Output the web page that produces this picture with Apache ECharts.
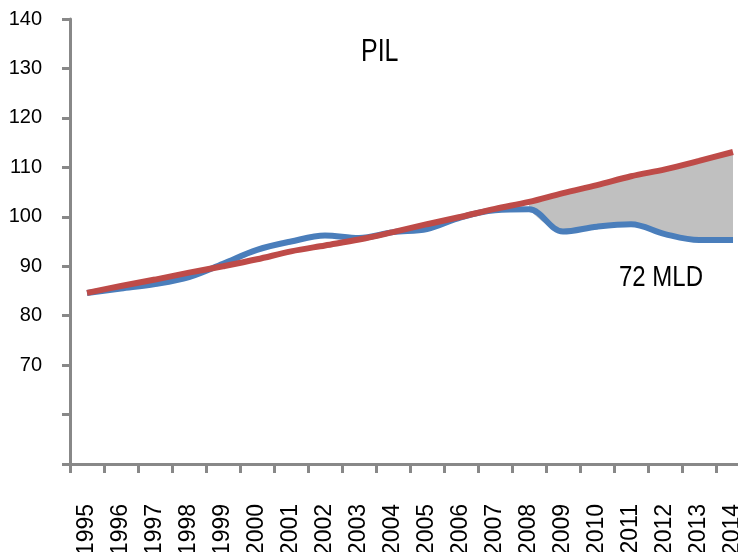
<!DOCTYPE html>
<html>
<head>
<meta charset="utf-8">
<script src="https://cdn.jsdelivr.net/npm/echarts@6/dist/echarts.min.js"></script>
<style>
  html, body { margin: 0; padding: 0; background: #fff; }
</style>
</head>
<body>
<div id="pilChart" style="width: 738px; height: 552px;"></div>
<script>
const years = ['1995', '1996', '1997', '1998', '1999', '2000', '2001', '2002', '2003', '2004',
  '2005', '2006', '2007', '2008', '2009', '2010', '2011', '2012', '2013', '2014']

// PIL effettivo (blu)
const pilActual = [84.6, 85.5, 86.4, 87.8, 90.5, 93.3, 95.0, 96.2, 95.7, 96.9,
  97.5, 99.9, 101.3, 101.5, 97.0, 98.0, 98.5, 96.5, 95.3, 95.3]

// PIL tendenziale (rosso)
const pilTrend = [84.6, 86.0, 87.3, 88.7, 90.0, 91.4, 93.0, 94.2, 95.4, 96.9,
  98.5, 100.0, 101.6, 103.0, 104.8, 106.4, 108.2, 109.6, 111.3, 113.1]

const gapFrom = 13 // 2008: inizia la perdita
const yLabels = ['70', '80', '90', '100', '110', '120', '130', '140']

const fontFamily = "'Liberation Sans', Arial, sans-serif"

const gapBase = pilActual.map((v, i) => (i >= gapFrom ? v : null))
const gapSize = pilActual.map((v, i) => (i >= gapFrom ? +(pilTrend[i] - v).toFixed(2) : null))

const myChart = echarts.init(document.getElementById('pilChart'))

const option = {
  animation: false,
  grid: {
    left: 70,
    top: 19,
    right: -12,
    bottom: 88,
    containLabel: false,
    outerBoundsMode: 'none',
  },
  xAxis: {
    type: 'category',
    boundaryGap: true,
    data: years,
    axisLine: { lineStyle: { color: '#888', width: 3 } },
    axisTick: { show: true, length: 9, lineStyle: { color: '#888', width: 3 } },
    axisLabel: {
      interval: 0,
      rotate: 90,
      margin: 40,
      color: '#000',
      fontSize: 23,
      fontFamily: fontFamily,
    },
  },
  yAxis: {
    type: 'value',
    min: 50,
    max: 140,
    interval: 10,
    splitLine: { show: false },
    axisLine: { show: true, lineStyle: { color: '#888', width: 3 } },
    axisTick: { show: true, length: 8, lineStyle: { color: '#888', width: 3 } },
    axisLabel: {
      margin: 28,
      color: '#000',
      fontSize: 20,
      fontFamily: fontFamily,
      formatter: (v) => (yLabels.indexOf(String(v)) >= 0 ? String(v) : ''),
    },
  },
  series: [
    {
      name: 'base',
      type: 'line',
      stack: 'gap',
      smooth: 0.35,
      symbol: 'none',
      lineStyle: { width: 0, opacity: 0 },
      data: gapBase,
      silent: true,
    },
    {
      name: 'perdita',
      type: 'line',
      stack: 'gap',
      smooth: 0.35,
      symbol: 'none',
      lineStyle: { width: 0, opacity: 0 },
      areaStyle: { color: '#c0c0c0', opacity: 1 },
      data: gapSize,
      silent: true,
    },
    {
      name: 'PIL',
      type: 'line',
      smooth: 0.35,
      symbol: 'none',
      lineStyle: { color: '#4a7ebb', width: 6 },
      data: pilActual,
    },
    {
      name: 'trend',
      type: 'line',
      smooth: 0.35,
      symbol: 'none',
      lineStyle: { color: '#be4b48', width: 6 },
      data: pilTrend,
    },
  ],
  graphic: [
    {
      type: 'text',
      x: 361,
      y: 36,
      scaleX: 0.78,
      style: { text: 'PIL', fill: '#000', font: '32px ' + fontFamily },
    },
    {
      type: 'text',
      x: 619,
      y: 263,
      scaleX: 0.8,
      style: { text: '72 MLD', fill: '#000', font: '30px ' + fontFamily },
    },
  ],
}

myChart.setOption(option)
</script>
</body>
</html>
